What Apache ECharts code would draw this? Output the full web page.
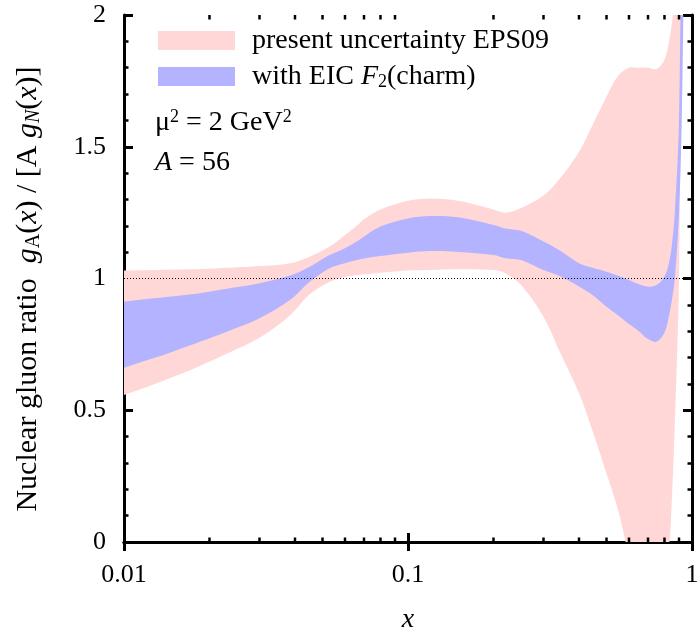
<!DOCTYPE html>
<html><head><meta charset="utf-8">
<script src="https://cdn.jsdelivr.net/npm/echarts@6/dist/echarts.min.js"></script>
<style>html,body{margin:0;padding:0;background:#fff}#c{width:698px;height:629px}</style>
</head><body><div id="c"></div>
<script>
// ---- data ----
const xs      = [0.01, 0.0125, 0.015, 0.0185, 0.0236, 0.03, 0.0384, 0.0451, 0.053, 0.06, 0.066, 0.07, 0.08, 0.1, 0.12, 0.15, 0.2, 0.22, 0.25, 0.3, 0.34, 0.4, 0.45, 0.5, 0.55, 0.6, 0.65, 0.7, 0.75, 0.8, 0.83, 0.85, 0.87, 0.9, 0.92, 0.94];
const eps09Hi = [1.030, 1.032, 1.034, 1.036, 1.041, 1.047, 1.058, 1.083, 1.121, 1.165, 1.200, 1.225, 1.262, 1.295, 1.304, 1.295, 1.262, 1.250, 1.268, 1.315, 1.375, 1.480, 1.590, 1.690, 1.770, 1.800, 1.800, 1.800, 1.795, 1.830, 1.900, 1.970, 2.080, 2.600, 3.000, 4.000];
const eps09Lo = [0.558, 0.595, 0.628, 0.668, 0.720, 0.775, 0.860, 0.940, 0.988, 1.006, 1.012, 1.016, 1.022, 1.030, 1.032, 1.035, 1.032, 1.020, 0.975, 0.855, 0.729, 0.565, 0.410, 0.260, 0.120, -0.050, -0.150, -0.150, -0.100, -0.100, -0.020, 0.170, 0.450, 1.000, 2.200, 2.600];
const eicHi   = [0.912, 0.924, 0.933, 0.944, 0.963, 0.982, 1.011, 1.045, 1.089, 1.115, 1.140, 1.159, 1.197, 1.228, 1.237, 1.232, 1.203, 1.190, 1.181, 1.140, 1.108, 1.058, 1.040, 1.026, 1.010, 0.994, 0.978, 0.969, 0.975, 1.008, 1.060, 1.130, 1.250, 1.600, 2.600, 3.500];
const eicLo   = [0.661, 0.695, 0.724, 0.760, 0.803, 0.849, 0.918, 0.988, 1.039, 1.058, 1.070, 1.076, 1.085, 1.098, 1.104, 1.101, 1.089, 1.077, 1.070, 1.032, 1.010, 0.970, 0.935, 0.893, 0.860, 0.827, 0.800, 0.770, 0.760, 0.795, 0.860, 0.920, 1.000, 1.250, 1.600, 2.300];
const xMinorTicks = [0.02, 0.03, 0.04, 0.05, 0.06, 0.07, 0.08, 0.09, 0.2, 0.3, 0.4, 0.5, 0.6, 0.7, 0.8, 0.9];
const xTickLabels = ['0.01', '0.1', '1'];
const yTickLabels = ['0', '0.5', '1', '1.5', '2'];
const refLine = [[0.01, 1], [1, 1]];
const seriesNames = ['present uncertainty EPS09', 'with EIC F2(charm)'];

const FONT = "'Liberation Serif', 'Times New Roman', serif";
const PINK = '#ffd7d7', BLUE = '#b3b3ff';
const SMOOTH = 0.35;

// smooth curve commands through pixel points (same rule as ECharts' smooth lines)
function ctrl(pts, i) {
  const p = pts[i], prev = pts[i > 0 ? i - 1 : i], next = pts[i < pts.length - 1 ? i + 1 : i];
  const vx = next[0] - prev[0], vy = next[1] - prev[1];
  const d0 = Math.hypot(p[0] - prev[0], p[1] - prev[1]);
  const d1 = Math.hypot(next[0] - p[0], next[1] - p[1]);
  const s = d0 + d1 > 0 ? SMOOTH / (d0 + d1) : 0;
  return [[p[0] - vx * s * d0, p[1] - vy * s * d0], [p[0] + vx * s * d1, p[1] + vy * s * d1]];
}
function curve(pts) {
  let d = '';
  for (let i = 0; i < pts.length - 1; i++) {
    const a = ctrl(pts, i)[1], b = ctrl(pts, i + 1)[0], p = pts[i + 1];
    const lo = Math.min(pts[i][0], p[0]), hi = Math.max(pts[i][0], p[0]);
    const ax = Math.min(Math.max(a[0], lo), hi), bx = Math.min(Math.max(b[0], lo), hi);
    d += ' C' + ax.toFixed(2) + ',' + a[1].toFixed(2) + ' ' + bx.toFixed(2) + ',' + b[1].toFixed(2) + ' ' + p[0].toFixed(2) + ',' + p[1].toFixed(2);
  }
  return d;
}
function bandItem(lo, hi, color) {
  return function (params, api) {
    if (params.dataIndex !== 0) return null;
    const up = xs.map(function (x, i) { return api.coord([x, hi[i]]); });
    const dn = xs.map(function (x, i) { return api.coord([x, lo[i]]); }).reverse();
    const d = 'M' + up[0][0].toFixed(2) + ',' + up[0][1].toFixed(2) + curve(up) +
      ' L' + dn[0][0].toFixed(2) + ',' + dn[0][1].toFixed(2) + curve(dn) + ' Z';
    return { type: 'path', shape: { pathData: d }, style: { fill: color } };
  };
}

const chart = echarts.init(document.getElementById('c'), null, { renderer: 'canvas' });
const axisLineStyle = { color: '#000', width: 3 };
function makeRich(size, lh) {
  const s = Math.round(size * 0.66);
  const small = Math.max(2, Math.round(lh / 2 - size * 0.3));
  return {
    t: { fontFamily: FONT, fontSize: size, color: '#000', lineHeight: lh },
    i: { fontFamily: FONT, fontSize: size, color: '#000', fontStyle: 'italic', lineHeight: lh },
    sup: { fontFamily: FONT, fontSize: s, color: '#000', lineHeight: small, verticalAlign: 'top' },
    sub: { fontFamily: FONT, fontSize: s, color: '#000', lineHeight: small, verticalAlign: 'bottom' },
    subi: { fontFamily: FONT, fontSize: s, color: '#000', fontStyle: 'italic', lineHeight: small, verticalAlign: 'bottom' }
  };
}
const richMain = makeRich(28, 30);
const richTitle = makeRich(30, 32);

const option = {
  animation: false,
  backgroundColor: '#fff',
  grid: { left: 124, right: 6, top: 15, bottom: 87, containLabel: false, outerBoundsMode: 'none' },
  legend: {
    orient: 'vertical', left: 158, top: 26.5, padding: 0, itemGap: 8,
    itemWidth: 77, itemHeight: 19, icon: 'rect',
    data: seriesNames,
    formatter: function (n) {
      return n === seriesNames[0] ? '{t|present uncertainty EPS09}' : '{t|with EIC }{i|F}{sub|2}{t|(charm)}';
    },
    textStyle: { padding: [0, 0, 0, 12], rich: richMain }
  },
  xAxis: [{
    type: 'log', logBase: 10, min: 0.01, max: 1, position: 'bottom',
    name: 'x', nameLocation: 'middle', nameGap: 64,
    nameTextStyle: { fontFamily: FONT, fontSize: 28, fontStyle: 'italic', color: '#000' },
    axisLine: { lineStyle: axisLineStyle },
    axisTick: { inside: true, length: 9, lineStyle: { color: '#000', width: 3 } },
    minorTick: { show: false },
    splitLine: { show: false },
    axisLabel: {
      margin: 20, color: '#000', fontFamily: FONT, fontSize: 26,
      formatter: function (v) { return xTickLabels[Math.round(Math.log10(v)) + 2]; }
    }
  }, {
    type: 'log', logBase: 10, min: 0.01, max: 1, position: 'top',
    axisLine: { lineStyle: axisLineStyle },
    axisTick: { inside: true, length: 9, lineStyle: { color: '#000', width: 3 } },
    splitLine: { show: false }, axisLabel: { show: false }
  }],
  yAxis: [{
    type: 'value', min: 0, max: 2, interval: 0.5, position: 'left',
    axisLine: { show: true, lineStyle: axisLineStyle },
    axisTick: { show: true, inside: true, length: 9, lineStyle: { color: '#000', width: 3 } },
    minorTick: { show: true, splitNumber: 5, length: 4.5, lineStyle: { color: '#000', width: 2.5 } },
    splitLine: { show: false },
    axisLabel: {
      margin: 18, color: '#000', fontFamily: FONT, fontSize: 26,
      formatter: function (v) { return yTickLabels[Math.round(v * 2)]; }
    }
  }, {
    type: 'value', min: 0, max: 2, interval: 0.5, position: 'right',
    axisLine: { show: true, lineStyle: axisLineStyle },
    axisTick: { show: true, inside: true, length: 9, lineStyle: { color: '#000', width: 3 } },
    minorTick: { show: true, splitNumber: 5, length: 4.5, lineStyle: { color: '#000', width: 2.5 } },
    splitLine: { show: false }, axisLabel: { show: false }
  }],
  series: [{
    name: seriesNames[0], type: 'custom', clip: true, z: 1,
    itemStyle: { color: PINK },
    renderItem: bandItem(eps09Lo, eps09Hi, PINK),
    data: xs.map(function (x, i) { return [x, eps09Lo[i], eps09Hi[i]]; }),
    encode: { x: 0, y: [1, 2] }
  }, {
    name: seriesNames[1], type: 'custom', clip: true, z: 2,
    itemStyle: { color: BLUE },
    renderItem: bandItem(eicLo, eicHi, BLUE),
    data: xs.map(function (x, i) { return [x, eicLo[i], eicHi[i]]; }),
    encode: { x: 0, y: [1, 2] }
  }, {
    name: 'ref', type: 'line', z: 3, symbol: 'none', silent: true,
    data: refLine,
    lineStyle: { color: '#000', width: 1, type: [1, 2] }
  }, {
    name: 'minorX', type: 'custom', z: 5, clip: false, silent: true,
    data: xMinorTicks.map(function (v) { return [v]; }),
    encode: { x: 0 },
    renderItem: function (params, api) {
      const b = api.coord([api.value(0), 0]);
      const t = api.coord([api.value(0), 2]);
      const st = { stroke: '#000', lineWidth: 2.5 };
      return { type: 'group', children: [
        { type: 'line', shape: { x1: b[0], y1: b[1], x2: b[0], y2: b[1] - 4.5 }, style: st },
        { type: 'line', shape: { x1: t[0], y1: t[1], x2: t[0], y2: t[1] + 4.5 }, style: st }
      ] };
    }
  }],
  graphic: [{
    type: 'text', x: 28, y: 289, rotation: Math.PI / 2,
    style: {
      text: '{t|Nuclear gluon ratio  }{i|g}{sub|A}{t|(}{i|x}{t|) / [A }{i|g}{subi|N}{t|(}{i|x}{t|)]}',
      rich: richTitle, align: 'center', verticalAlign: 'middle'
    }
  }, {
    type: 'text', x: 155, y: 123,
    style: { text: '{t|\u03bc}{sup|2}{t| = 2 GeV}{sup|2}', rich: richMain, align: 'left', verticalAlign: 'middle' }
  }, {
    type: 'text', x: 155, y: 163,
    style: { text: '{i|A}{t| = 56}', rich: richMain, align: 'left', verticalAlign: 'middle' }
  }]
};
chart.setOption(option);
</script>
</body></html>
